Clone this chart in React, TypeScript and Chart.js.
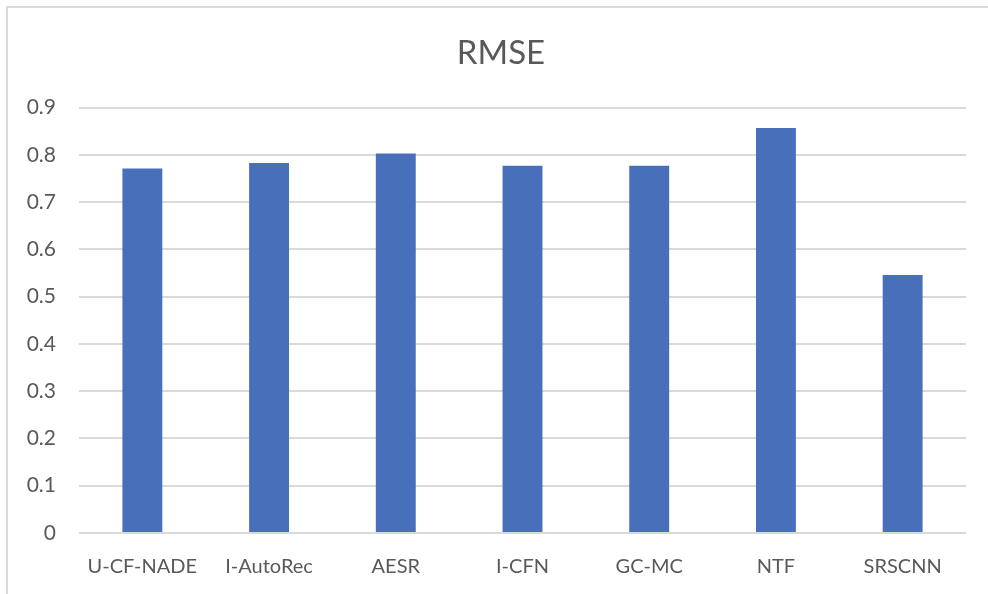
import React, { useEffect, useRef } from "react";
import { Chart, registerables } from "chart.js";

Chart.register(...registerables);

const categories = ["U-CF-NADE", "I-AutoRec", "AESR", "I-CFN", "GC-MC", "NTF", "SRSCNN"];
const rmseValues = [0.771, 0.783, 0.803, 0.777, 0.777, 0.857, 0.546];
const titleText = "RMSE";

export default function App() {
  const canvasRef = useRef<HTMLCanvasElement | null>(null);

  useEffect(() => {
    if (!canvasRef.current) return;
    const chart = new Chart(canvasRef.current, {
      type: "bar",
      data: {
        labels: categories,
        datasets: [
          {
            label: titleText,
            data: rmseValues,
            backgroundColor: "#4870BA",
            borderWidth: 0,
            barPercentage: 0.315,
            categoryPercentage: 1,
            yAxisID: "y",
          },
        ],
      },
      options: {
        responsive: false,
        animation: false,
        devicePixelRatio: 1,
        layout: { padding: { left: 14, right: 0, top: 0, bottom: 15 } },
        plugins: {
          legend: { display: false },
          tooltip: { enabled: false },
          title: {
            display: true,
            text: titleText,
            color: "#595959",
            font: { family: "Lato", size: 33, weight: "normal" },
            padding: { top: 34, bottom: 34 },
          },
        },
        scales: {
          x: {
            afterFit: (scale: any) => {
              scale.height = 46;
            },
            grid: { display: false, drawTicks: false },
            border: { display: false },
            ticks: {
              color: "#595959",
              font: { family: "Lato", size: 20 },
              padding: 22,
              maxRotation: 0,
              autoSkip: false,
            },
          },
          y: {
            min: 0,
            max: 0.9,
            afterFit: (scale: any) => {
              scale.width = 65;
            },
            grid: { color: "#d9d9d9", lineWidth: 2, drawTicks: false },
            border: { display: false },
            ticks: {
              stepSize: 0.1,
              color: "#595959",
              font: { family: "Lato", size: 21 },
              padding: 23,
              callback: (v: any) => {
                const n = Math.round(Number(v) * 10) / 10;
                return n === 0 ? "0" : n.toFixed(1);
              },
            },
          },
          yRight: {
            position: "right",
            display: true,
            min: 0,
            max: 0.9,
            afterFit: (scale: any) => {
              scale.width = 22;
            },
            grid: { display: false, drawTicks: false },
            border: { display: false },
            ticks: { display: false },
          },
        },
      },
    });
    return () => chart.destroy();
  }, []);

  return (
    <div
      style={{
        position: "fixed",
        left: 0,
        top: 0,
        width: 988,
        height: 594,
        background: "#ffffff",
        overflow: "hidden",
      }}
    >
      <div
        style={{
          position: "absolute",
          left: 6,
          top: 6,
          right: 0,
          bottom: 0,
          borderLeft: "2px solid #d9d9d9",
          borderTop: "2px solid #d9d9d9",
        }}
      />
      <canvas
        ref={canvasRef}
        width={988}
        height={594}
        style={{ position: "absolute", left: 0, top: 0, width: 988, height: 594 }}
      />
    </div>
  );
}
